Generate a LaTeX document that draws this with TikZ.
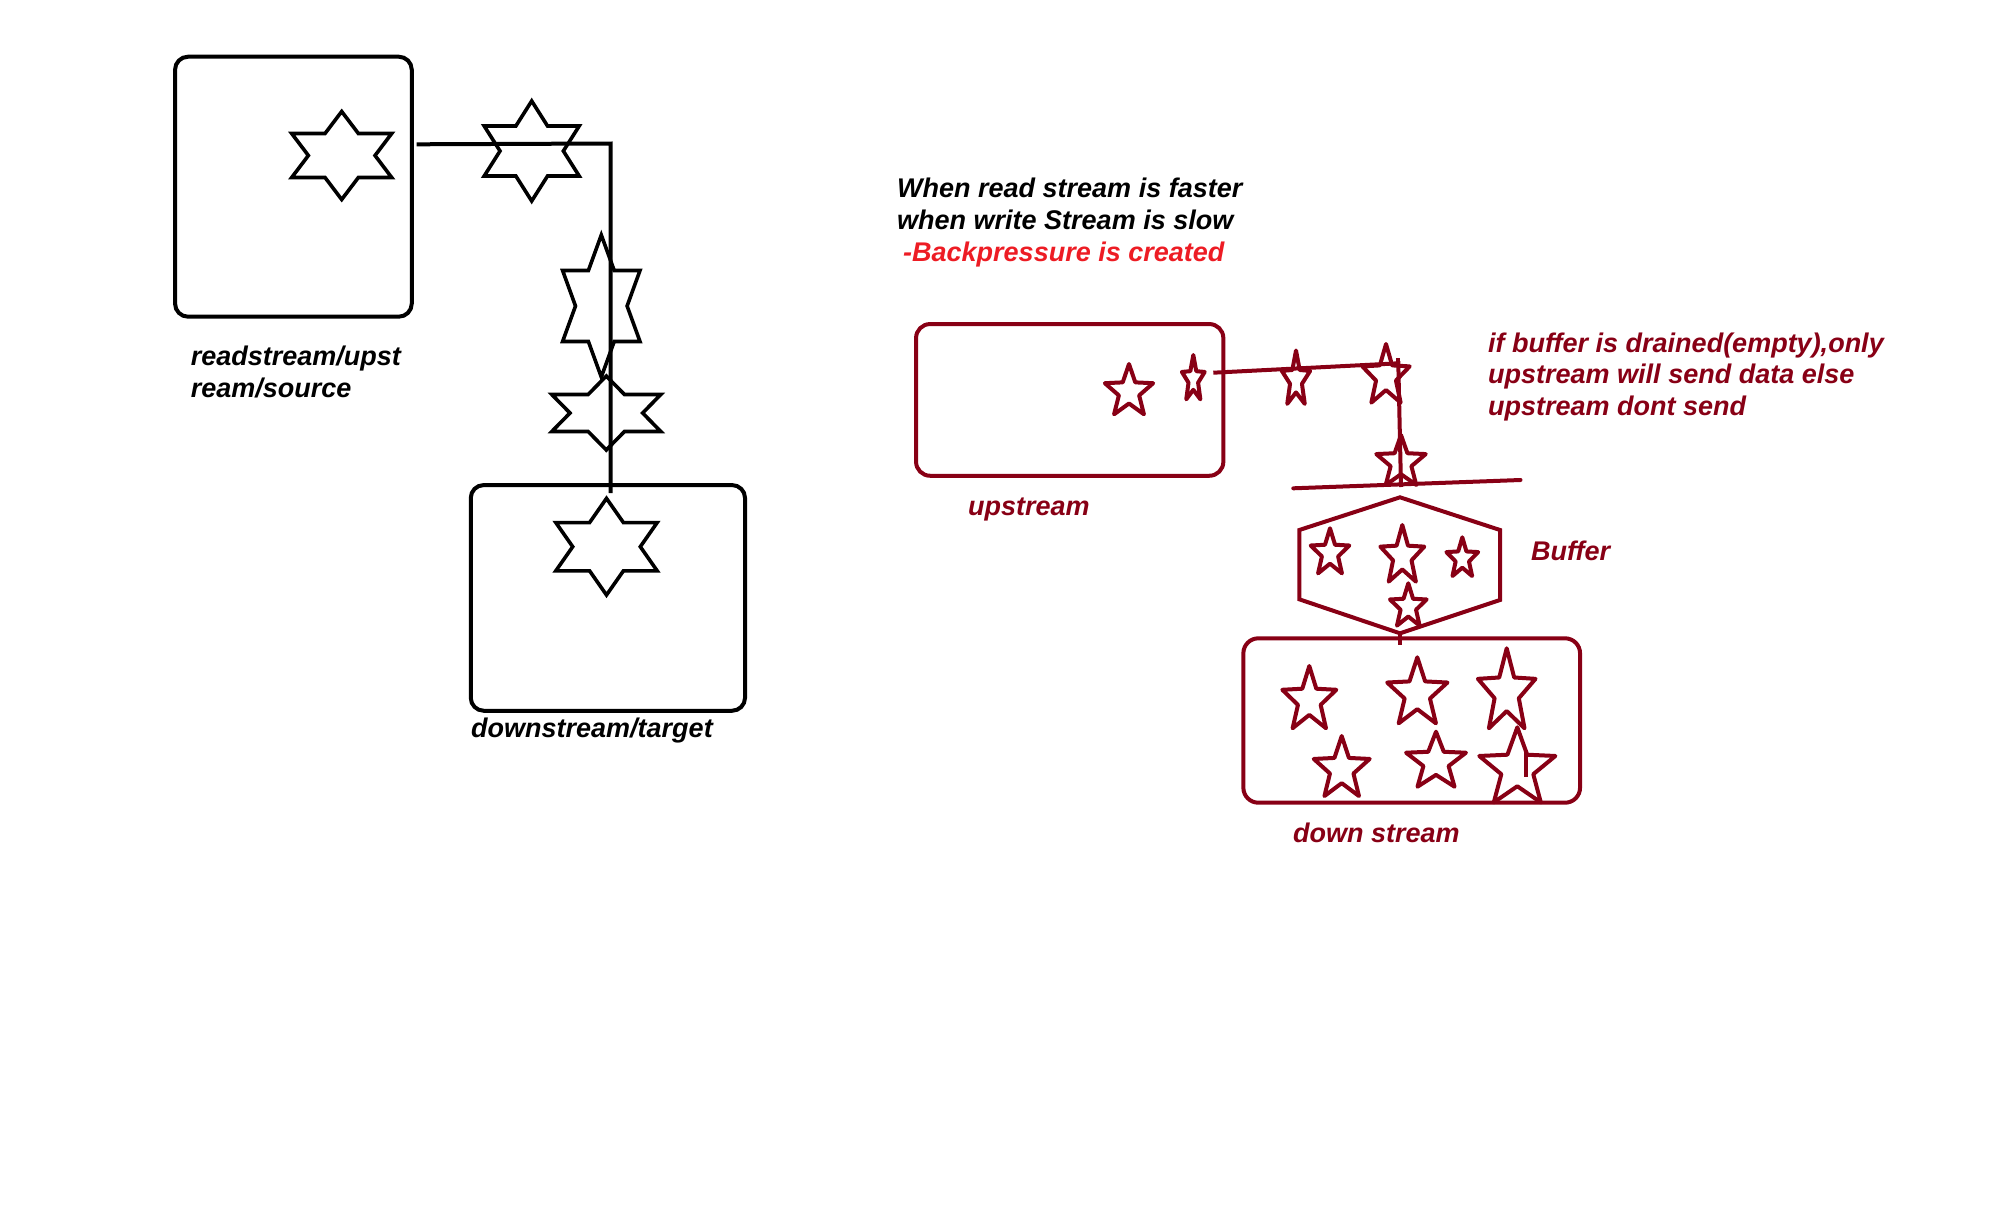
\documentclass[tikz,border=0pt]{standalone}
\usepackage{fontspec}
\setmainfont{Liberation Sans}
\definecolor{pdred}{RGB}{136,0,21}
\definecolor{pred}{RGB}{237,28,36}
\begin{document}
\begin{tikzpicture}[x=1pt,y=-1pt,
  bbox/.style={draw=black, line width=4pt, rounded corners=13pt, inner sep=0pt},
  rbox/.style={draw=pdred, line width=4pt, rounded corners=14pt, inner sep=0pt},
  blk/.style={draw=black, line width=4pt},
  rline/.style={draw=pdred, line width=4pt, line cap=round},
  hstar/.style={draw=black, line width=3.6pt, line join=miter},
  rstar/.style={draw=pdred, line width=4pt, line join=round},
  lbl/.style={anchor=base west, inner sep=0pt, font=\bfseries\itshape\fontsize{27}{32}\selectfont},
  pics/hexstar/.style n args={2}{code={
    \draw[hstar] (0,-#2) -- ({#1/3},{-#2/2}) -- (#1,{-#2/2}) -- ({2*#1/3},0) -- (#1,{#2/2}) -- ({#1/3},{#2/2}) -- (0,#2) -- ({-#1/3},{#2/2}) -- (-#1,{#2/2}) -- ({-2*#1/3},0) -- (-#1,{-#2/2}) -- ({-#1/3},{-#2/2}) -- cycle;}},
  pics/fstar/.style n args={2}{code={
    \draw[rstar] (0,-#2) \foreach \k in {0,...,4} { -- ({0.42*#1*cos(126+72*\k)},{-0.42*#2*sin(126+72*\k)}) -- ({#1*cos(162+72*\k)},{-#2*sin(162+72*\k)}) } -- cycle;}}
]
\useasboundingbox (0,0) rectangle (1992,1227);

% ---------- left diagram ----------
\node[bbox, minimum width=236.7pt, minimum height=260pt] (srcbox) at (293.4,186.7) {};
\node[bbox, minimum width=274.3pt, minimum height=225.7pt] (dstbox) at (607.9,597.9) {};
\coordinate (l1) at (416.7,144.3);
\coordinate (l2) at (610.5,143.5);
\coordinate (l3) at (610.5,493);
\draw[blk] (l1) -- (l2) -- (l3);

\pic (h1) at (341.7,155.5) {hexstar={50}{44}};
\pic (h2) at (531.7,151) {hexstar={47.5}{50}};
\pic (h3) at (601.3,306) {hexstar={38.7}{71}};
\pic (h4) at (606.3,413) {hexstar={54.5}{37}};
\pic (h5) at (606.5,546.7) {hexstar={50.7}{48.3}};

\node[lbl] (srclbl1) at (190.6,365) {readstream/upst};
\node[lbl] (srclbl2) at (190.6,397) {ream/source};
\node[lbl] (dstlbl) at (471,737) {downstream/target};

% ---------- heading ----------
\node[lbl] (head1) at (897,197) {When read stream is faster};
\node[lbl] (head2) at (897,229) {when write Stream is slow};
\node[lbl, text=pred] (head3) at (903,261) {-Backpressure is created};

% ---------- right diagram ----------
\node[rbox, minimum width=307.3pt, minimum height=151.7pt] (upbox) at (1069.7,399.9) {};
\node[rbox, rounded corners=15pt, minimum width=336.7pt, minimum height=164.4pt] (downbox) at (1411.7,720.5) {};

\coordinate (r1) at (1213.3,372.7);
\coordinate (r2) at (1398.3,363.3);
\coordinate (r3) at (1401,487);
\draw[rline, line cap=butt] (r1) -- (r2) -- (r3);
\draw[rline, line cap=butt] (1398.3,358) -- (r2);

\coordinate (g1) at (1293.3,488.3);
\coordinate (g2) at (1520.5,480);
\draw[rline] (g1) -- (g2);

\draw[draw=pdred, line width=4pt, line join=miter] (1400,497.3) -- (1500,530) -- (1500,600) -- (1400,633.3) -- (1299.3,599.3) -- (1299.3,530) -- cycle;
\coordinate (hb) at (1400,633.3);
\coordinate (tk) at (1400,645);
\draw[rline, line cap=butt] (hb) -- (tk);

\pic at (1129,391.8) {fstar={25.4}{27.8}};
\pic at (1193.3,379.5) {fstar={12}{24.5}};
\pic at (1296,380) {fstar={14.9}{29.5}};
\pic at (1386,376.4) {fstar={24.9}{32.4}};
\pic at (1401,462.6) {fstar={26}{27.6}};

\pic at (1330,553.2) {fstar={20.3}{24.9}};
\pic at (1402.3,556.3) {fstar={23.1}{31.3}};
\pic at (1462.3,558.7) {fstar={16.7}{21.4}};
\pic at (1408.3,606.7) {fstar={19.3}{23.4}};

\pic at (1309.3,700.4) {fstar={28.4}{34.4}};
\pic at (1417.3,693.8) {fstar={31.7}{36.5}};
\pic at (1506.7,692.5) {fstar={30.3}{44.2}};
\pic at (1341.7,769.2) {fstar={29.4}{33.2}};
\pic at (1436,762.1) {fstar={31.5}{30.4}};
\pic at (1517.3,768.8) {fstar={40}{41.5}};
\draw[rline, line cap=butt] (1526,750) -- (1526,777);

\node[lbl, text=pdred] (uplbl) at (968,515) {upstream};
\node[lbl, text=pdred] (buflbl) at (1531,560) {Buffer};
\node[lbl, text=pdred] (downlbl) at (1293,842) {down stream};
\node[lbl, text=pdred] (note1) at (1488,352) {if buffer is drained(empty),only};
\node[lbl, text=pdred] (note2) at (1488,383.5) {upstream will send data else};
\node[lbl, text=pdred] (note3) at (1488,415) {upstream dont send};
\end{tikzpicture}
\end{document}
